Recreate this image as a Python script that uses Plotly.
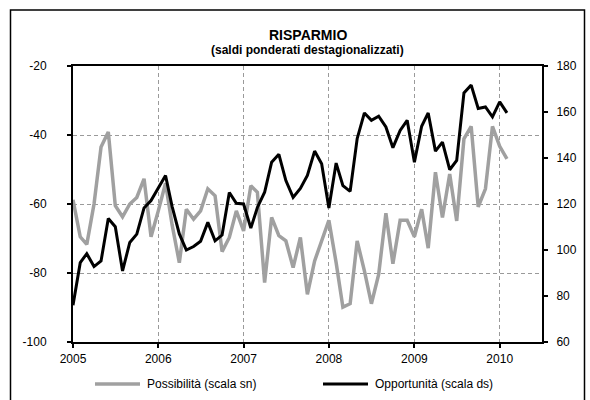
import plotly.graph_objects as go

# ---------------- data ----------------
years = [2005, 2006, 2007, 2008, 2009, 2010]
year_labels = ["2005", "2006", "2007", "2008", "2009", "2010"]

# monthly dates Jan 2005 .. Feb 2010
months = [f"{2005 + i // 12}-{i % 12 + 1:02d}-01" for i in range(62)]

possibilita = [
    -58.8, -69.5, -71.7, -60.0, -43.5, -39.1, -60.5, -63.7, -60.0, -58.1, -52.7, -69.5,
    -62.0, -54.0, -66.0, -77.0, -61.5, -64.4, -62.0, -55.6, -57.6, -73.8, -69.7, -62.0,
    -67.8, -54.7, -56.6, -82.8, -63.9, -69.2, -70.7, -78.4, -69.7, -86.2, -76.5, -70.7,
    -64.7, -77.0, -89.9, -88.9, -70.7, -79.4, -88.9, -80.4, -62.7, -77.3, -64.7, -64.7,
    -69.5, -61.5, -72.8, -50.8, -63.9, -51.3, -64.9, -41.1, -37.5, -60.8, -55.6, -37.5,
    -43.3, -46.9,
]
opportunita = [
    76.0, 94.5, 98.4, 92.8, 95.2, 113.7, 110.1, 90.9, 103.3, 106.9, 118.3, 121.5,
    127.0, 132.4, 119.0, 107.0, 100.0, 101.5, 103.8, 112.0, 104.0, 106.5, 125.0, 120.3,
    120.0, 109.5, 118.5, 125.1, 138.2, 141.6, 130.2, 122.9, 126.8, 132.4, 143.0, 137.5,
    118.3, 137.8, 128.0, 125.5, 148.4, 159.6, 156.4, 158.2, 153.5, 144.5, 152.0, 156.4,
    138.2, 153.8, 159.6, 143.0, 146.9, 134.9, 138.9, 168.3, 171.7, 161.5, 162.2, 157.9,
    164.4, 159.6,
]

left_ticks = [-100, -80, -60, -40, -20]
left_labels = ["-100", "-80", "-60", "-40", "-20"]
right_ticks = [60, 80, 100, 120, 140, 160, 180]
right_labels = ["60", "80", "100", "120", "140", "160", "180"]

title_text = "RISPARMIO"
subtitle_text = "(saldi ponderati destagionalizzati)"
name_gray = "Possibilità (scala sn)"
name_black = "Opportunità (scala ds)"

# ---------------- layout geometry (pixels) ----------------
W, H = 590, 400
L, R, T, B = 73, 48, 66, 58
PW, PH = W - L - R, H - T - B

def px(xpix):
    return (xpix - L) / PW

def py(ypix):
    return (H - B - ypix) / PH

FONT = "Liberation Sans, Arial, sans-serif"
GRAY = "#a0a0a0"
GRID = "#9a9a9a"

fig = go.Figure()
fig.add_trace(go.Scatter(x=months, y=possibilita, mode="lines", name=name_gray,
                         line=dict(color=GRAY, width=3.5), yaxis="y"))
fig.add_trace(go.Scatter(x=months, y=opportunita, mode="lines", name=name_black,
                         line=dict(color="black", width=3), yaxis="y2"))

fig.update_layout(
    width=W, height=H,
    margin=dict(l=L, r=R, t=T, b=B, pad=0),
    paper_bgcolor="white", plot_bgcolor="white",
    showlegend=False,
    font=dict(family=FONT, size=12, color="black"),
    xaxis=dict(
        type="date",
        range=["2005-01-01", "2010-07-01"],
        tickvals=[f"{y}-01-01" for y in years],
        ticktext=year_labels,
        showgrid=True, gridcolor=GRID, gridwidth=1, griddash="4px,3px",
        showline=True, linecolor="black", linewidth=2, mirror=True,
        ticks="outside", ticklen=4, tickwidth=1.5, tickcolor="black",
        tickfont=dict(family=FONT, size=12, color="black"),
        ticklabelstandoff=1,
        zeroline=False,
    ),
    yaxis=dict(
        range=[-100, -20], tickvals=left_ticks, ticktext=left_labels,
        showgrid=True, gridcolor=GRID, gridwidth=1, griddash="4px,3px",
        showline=True, linecolor="black", linewidth=2,
        ticks="outside", ticklen=4, tickwidth=1.5, tickcolor="black",
        tickfont=dict(family=FONT, size=12, color="black"),
        ticklabelstandoff=18,
        zeroline=False,
    ),
    yaxis2=dict(
        range=[60, 180], tickvals=right_ticks, ticktext=right_labels,
        overlaying="y", side="right",
        showgrid=False, zeroline=False,
        showline=True, linecolor="black", linewidth=2,
        ticks="outside", ticklen=4, tickwidth=1.5, tickcolor="black",
        tickfont=dict(family=FONT, size=12, color="black"),
        ticklabelstandoff=6,
    ),
)

shapes = []
# outer chart frame
shapes.append(dict(type="rect", xref="paper", yref="paper",
                   x0=px(10.5), x1=px(584.5), y0=py(405), y1=py(10),
                   line=dict(color="black", width=1.5), fillcolor="rgba(0,0,0,0)", layer="above"))
# legend samples
LEG_Y = 384
shapes.append(dict(type="line", xref="paper", yref="paper",
                   x0=px(95), x1=px(140), y0=py(LEG_Y), y1=py(LEG_Y),
                   line=dict(color=GRAY, width=3.5)))
shapes.append(dict(type="line", xref="paper", yref="paper",
                   x0=px(323), x1=px(368), y0=py(LEG_Y), y1=py(LEG_Y),
                   line=dict(color="black", width=3)))
fig.update_layout(shapes=shapes)

annotations = [
    dict(text=f"<b>{title_text}</b>", xref="paper", yref="paper", x=0.5, y=py(35),
         xanchor="center", yanchor="middle", showarrow=False,
         font=dict(family=FONT, size=14, color="black")),
    dict(text=f"<b>{subtitle_text}</b>", xref="paper", yref="paper", x=0.5, y=py(50),
         xanchor="center", yanchor="middle", showarrow=False,
         font=dict(family=FONT, size=12, color="black")),
    dict(text=name_gray, xref="paper", yref="paper", x=px(145), y=py(LEG_Y),
         xanchor="left", yanchor="middle", showarrow=False,
         font=dict(family=FONT, size=12, color="black")),
    dict(text=name_black, xref="paper", yref="paper", x=px(373), y=py(LEG_Y),
         xanchor="left", yanchor="middle", showarrow=False,
         font=dict(family=FONT, size=12, color="black")),
]
fig.update_layout(annotations=annotations)

fig.write_html("out.html", config={"displayModeBar": False},
               post_script="document.body.style.margin='0';")
